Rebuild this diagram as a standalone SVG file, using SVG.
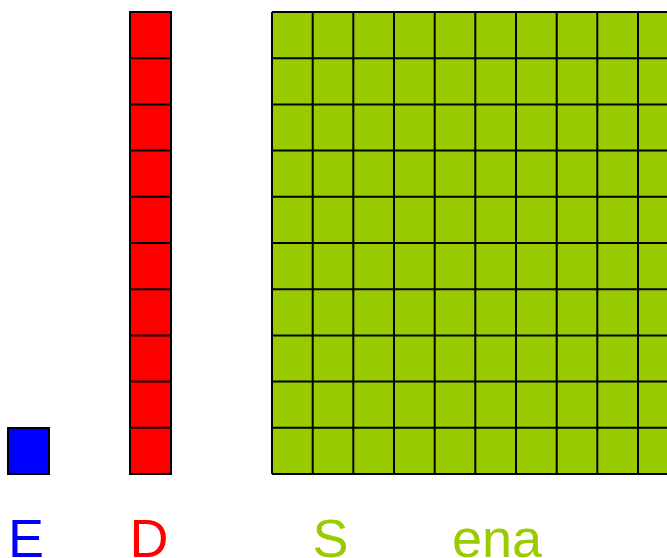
<svg xmlns="http://www.w3.org/2000/svg" width="667" height="558" viewBox="0 0 667 558">
<style>
.g{stroke:#000;stroke-width:2;fill:none}
.t{font-family:"Liberation Sans",Arial,sans-serif;font-size:54px}
</style>
<rect width="667" height="558" fill="#fff"/>
<g id="unit">
<rect x="8" y="428" width="41" height="46" fill="#0000ff" stroke="#000" stroke-width="2"/>
</g>
<g id="ten">
<rect x="130" y="12" width="41" height="462" fill="#ff0000"/>
<path class="g" d="M130,12H171V474H130Z M130,58.2H171 M130,104.4H171 M130,150.6H171 M130,196.8H171 M130,243H171 M130,289.2H171 M130,335.4H171 M130,381.6H171 M130,427.8H171"/>
</g>
<g id="hundred">
<rect x="272" y="12" width="420" height="462" fill="#99cc00"/>
<path class="g" d="M272,12H700 M272,474H700 M272,12V474 M312.7,12V474 M353.3,12V474 M394,12V474 M434.7,12V474 M475.3,12V474 M516,12V474 M556.7,12V474 M597.3,12V474 M638,12V474 M272,58.2H700 M272,104.4H700 M272,150.6H700 M272,196.8H700 M272,243H700 M272,289.2H700 M272,335.4H700 M272,381.6H700 M272,427.8H700"/>
</g>
<g id="labels" class="t">
<text x="8" y="557" fill="#0000ff">E</text>
<text x="129.5" y="557" fill="#ff0000">D</text>
<text x="312.5" y="557" fill="#99cc00">S</text>
<text x="452" y="557" fill="#99cc00">ena</text>
</g>
</svg>
